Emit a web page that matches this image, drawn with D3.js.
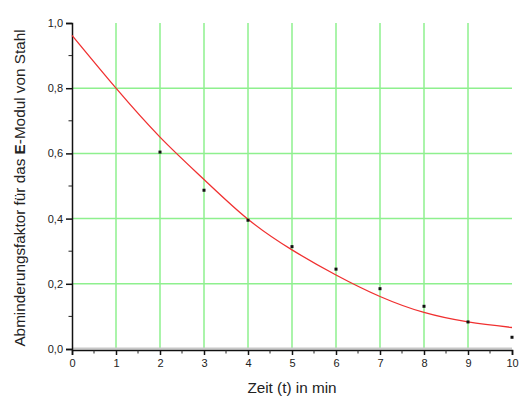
<!DOCTYPE html>
<html>
<head>
<meta charset="utf-8">
<script src="https://cdn.jsdelivr.net/npm/d3@7"></script>
<style>
  body { margin: 0; background: #fff; }
  svg text { font-family: "Liberation Sans", Arial, sans-serif; fill: #222; }
</style>
</head>
<body>
<div id="chart"></div>
<script>
// measured points
var zeit = [2, 3, 4, 5, 6, 7, 8, 9, 10];
var faktor = [0.604, 0.487, 0.395, 0.314, 0.245, 0.185, 0.131, 0.083, 0.036];

// fitted curve
var fitX = [0, 1, 2, 3, 4, 5, 6, 7, 8, 9, 10];
var fitY = [0.962, 0.80, 0.650, 0.520, 0.398, 0.304, 0.227, 0.161, 0.112, 0.083, 0.066];

var xTicks = [0, 1, 2, 3, 4, 5, 6, 7, 8, 9, 10];
var yTicks = [0, 0.2, 0.4, 0.6, 0.8, 1.0];

var width = 520, height = 404;
var margin = { top: 23, right: 8, bottom: 55, left: 72 };

var svg = d3.select("#chart")
    .append("svg")
    .attr("width", width)
    .attr("height", height);

var x = d3.scaleLinear().domain([0, 10]).range([margin.left, width - margin.right]);
var y = d3.scaleLinear().domain([0, 1]).range([height - margin.bottom, margin.top]);

var fmt = function (d) { return d3.format(".1f")(d).replace(".", ","); };

// grid
svg.append("g")
    .selectAll("line")
    .data(xTicks.filter(function (d) { return d > 0 && d < 10; }))
    .enter().append("line")
    .attr("x1", x).attr("x2", x)
    .attr("y1", y(1)).attr("y2", y(0))
    .attr("stroke", "#8ef08e")
    .attr("stroke-width", 1.5);

svg.append("g")
    .selectAll("line")
    .data(yTicks.filter(function (d) { return d > 0 && d < 1; }))
    .enter().append("line")
    .attr("x1", x(0)).attr("x2", x(10))
    .attr("y1", y).attr("y2", y)
    .attr("stroke", "#8ef08e")
    .attr("stroke-width", 1.5);

// grey zero line
svg.append("line")
    .attr("x1", x(0)).attr("x2", x(10))
    .attr("y1", y(0) - 0.5).attr("y2", y(0) - 0.5)
    .attr("stroke", "#c8c8c8")
    .attr("stroke-width", 2);

// axes
var xAxis = svg.append("g")
    .attr("transform", "translate(0," + (y(0) + 1) + ")")
    .call(d3.axisBottom(x).tickValues(xTicks).tickSize(5).tickPadding(4).tickFormat(d3.format("d")));
xAxis.append("g")
    .selectAll("line")
    .data(d3.range(0.5, 10, 1))
    .enter().append("line")
    .attr("x1", x).attr("x2", x)
    .attr("y1", 0).attr("y2", 3.5)
    .attr("stroke", "#222");

var yAxis = svg.append("g")
    .attr("transform", "translate(" + x(0) + ",0)")
    .call(d3.axisLeft(y).tickValues(yTicks).tickSize(6).tickPadding(3).tickFormat(fmt));
yAxis.append("g")
    .selectAll("line")
    .data([0.1, 0.3, 0.5, 0.7, 0.9])
    .enter().append("line")
    .attr("x1", -3.5).attr("x2", 0)
    .attr("y1", y).attr("y2", y)
    .attr("stroke", "#222");

[xAxis, yAxis].forEach(function (a) {
    a.select(".domain").attr("stroke", "#111").attr("stroke-width", 1.5);
    a.selectAll(".tick line").attr("stroke", "#111").attr("stroke-width", 1.5);
    a.selectAll("text").attr("font-size", 11).attr("fill", "#333");
});

// fitted curve
var line = d3.line()
    .x(function (d, i) { return x(fitX[i]); })
    .y(function (d) { return y(d); })
    .curve(d3.curveNatural);

svg.append("path")
    .datum(fitY)
    .attr("d", line)
    .attr("fill", "none")
    .attr("stroke", "#f03030")
    .attr("stroke-width", 1.3);

// points
svg.append("g")
    .selectAll("rect")
    .data(zeit)
    .enter().append("rect")
    .attr("x", function (d) { return x(d) - 1.5; })
    .attr("y", function (d, i) { return y(faktor[i]) - 1.5; })
    .attr("width", 3)
    .attr("height", 3)
    .attr("fill", "#111");

// labels
svg.append("text")
    .attr("x", 292)
    .attr("y", 393)
    .attr("text-anchor", "middle")
    .attr("font-size", 15.3)
    .text("Zeit (t) in min");

var yl = svg.append("text")
    .attr("transform", "translate(25," + 188 + ") rotate(-90)")
    .attr("text-anchor", "middle")
    .attr("font-size", 15.3);
yl.append("tspan").text("Abminderungsfaktor für das ");
yl.append("tspan").attr("font-weight", "bold").text("E");
yl.append("tspan").text("-Modul von Stahl");
</script>
</body>
</html>
